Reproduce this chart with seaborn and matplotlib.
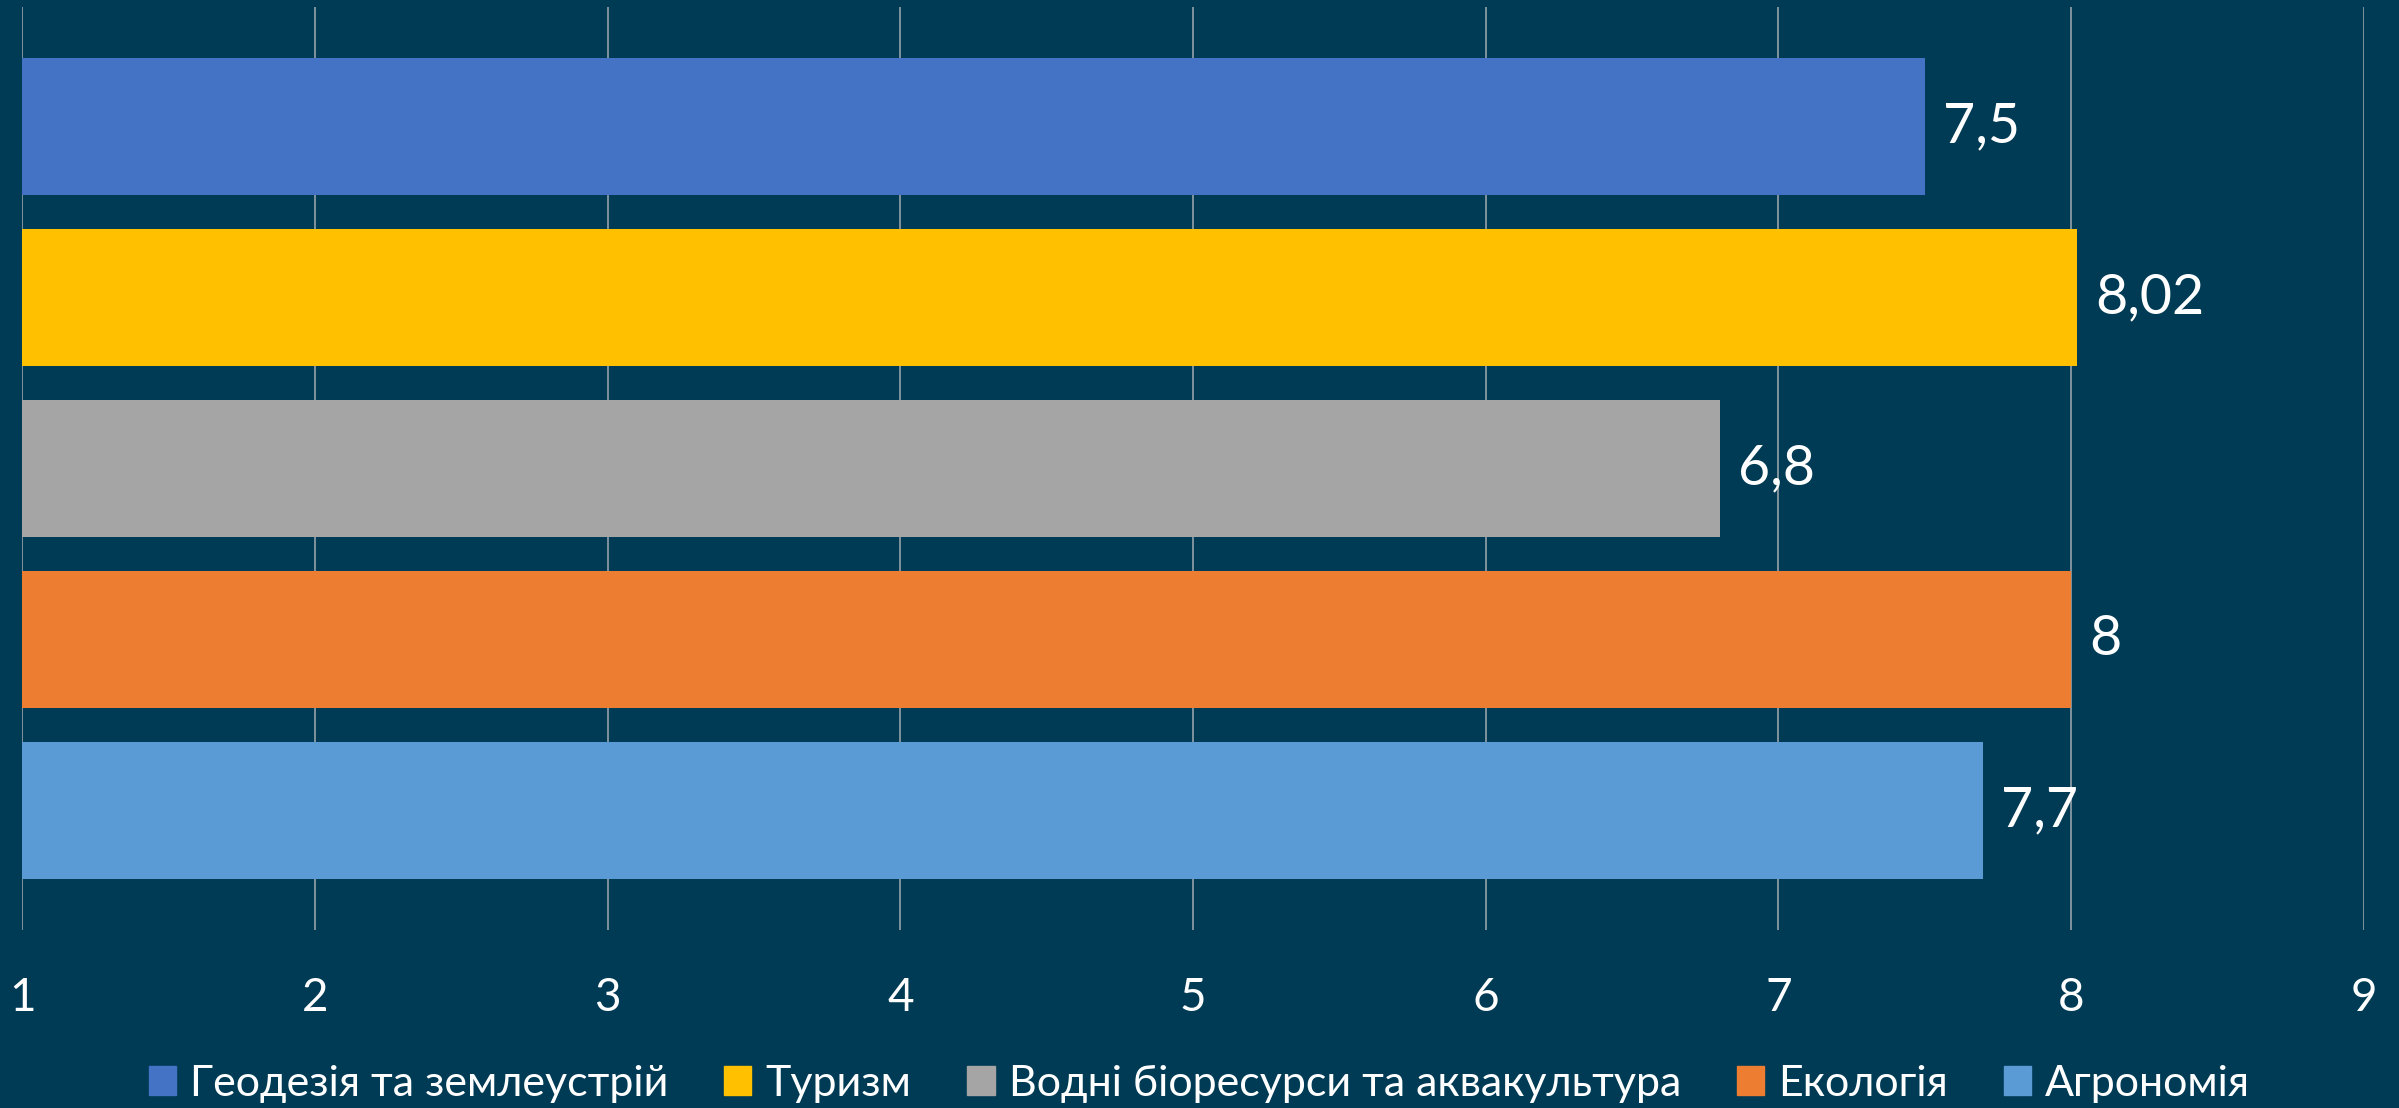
import matplotlib
matplotlib.use("Agg")
import matplotlib.pyplot as plt
import matplotlib.patches as mpatches
import seaborn as sns
import pandas as pd

# chart data
categories = ["Геодезія та землеустрій", "Туризм", "Водні біоресурси та аквакультура", "Екологія", "Агрономія"]
values = [7.5, 8.02, 6.8, 8.0, 7.7]
value_labels = ["7,5", "8,02", "6,8", "8", "7,7"]
colors = ["#4472C4", "#FFC000", "#A5A5A5", "#ED7D31", "#5B9BD5"]
x_ticks = [1, 2, 3, 4, 5, 6, 7, 8, 9]

bg = "#003B55"
grid_col = "#8A9AA3"

sns.set_style("dark")
plt.rcParams["font.family"] = ["Lato", "DejaVu Sans"]

df = pd.DataFrame({"category": categories, "value": values})

fig = plt.figure(figsize=(23.99, 11.08), dpi=100, facecolor=bg)
ax = fig.add_axes([0.0092, 0.1606, 0.9762, 0.8331])
ax.set_facecolor(bg)

sns.barplot(data=df, x="value", y="category", hue="category", palette=colors,
            orient="h", width=0.8, legend=False, saturation=1, linewidth=0,
            edgecolor="none", ax=ax)

ax.set_xlim(1, 9)
ax.set_ylim(4.7, -0.7)
ax.set_xticks(x_ticks)
ax.set_xticklabels([str(t) for t in x_ticks], color="white", fontsize=33)
ax.tick_params(axis="x", length=0, pad=34)
ax.set_yticks([])
ax.set_xlabel("")
ax.set_ylabel("")
ax.grid(axis="x", color=grid_col, linewidth=1.3)
ax.grid(axis="y", visible=False)
ax.set_axisbelow(True)
for s in ax.spines.values():
    s.set_visible(False)

for i, (v, lab) in enumerate(zip(values, value_labels)):
    ax.annotate(lab, xy=(v, i), xytext=(13, 0), textcoords="offset points",
                va="center", ha="left", color="white", fontsize=40)

handles = [mpatches.Patch(color=c, label=l) for c, l in zip(colors, categories)]
fig.legend(handles=handles, loc="center", bbox_to_anchor=(0.5, 0.022), ncol=5,
           frameon=False, fontsize=31, labelcolor="white", handlelength=0.63,
           handleheight=0.63, handletextpad=0.33, columnspacing=1.3)

fig.savefig("out.png", dpi=100, facecolor=bg)
